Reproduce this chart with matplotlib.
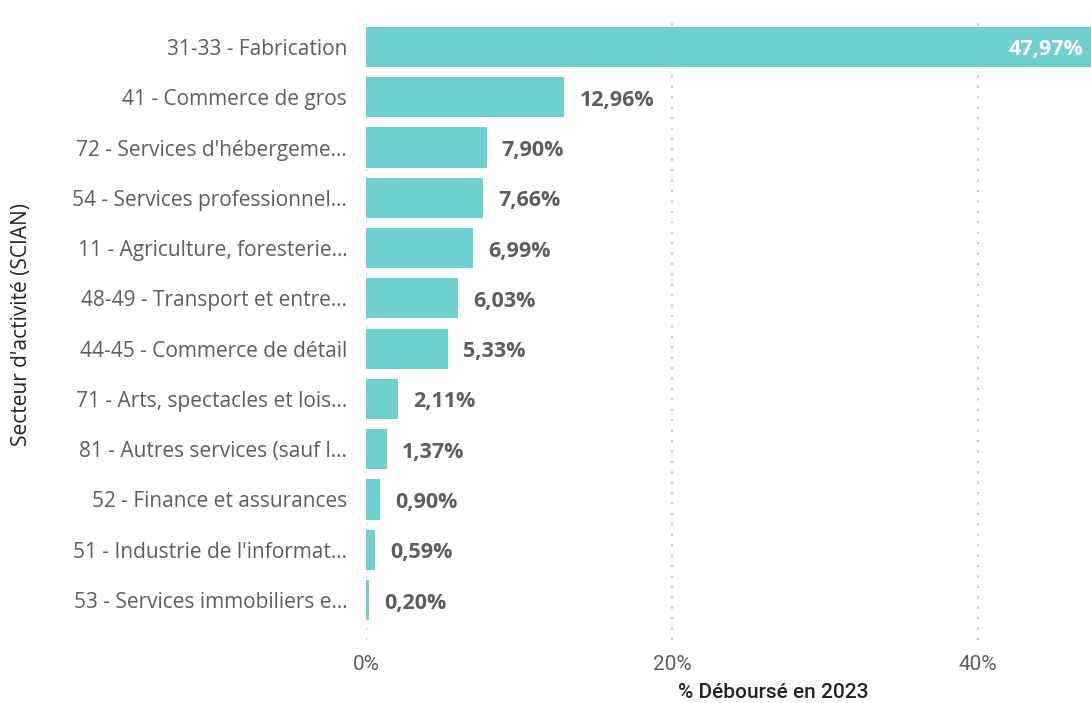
import matplotlib
matplotlib.use("Agg")
import matplotlib.pyplot as plt
from matplotlib.ticker import FuncFormatter, FixedLocator

categories = [
    "31-33 - Fabrication",
    "41 - Commerce de gros",
    "72 - Services d'hébergeme…",
    "54 - Services professionnel…",
    "11 - Agriculture, foresterie…",
    "48-49 - Transport et entre…",
    "44-45 - Commerce de détail",
    "71 - Arts, spectacles et lois…",
    "81 - Autres services (sauf l…",
    "52 - Finance et assurances",
    "51 - Industrie de l'informat…",
    "53 - Services immobiliers e…",
]
values = [47.97, 12.96, 7.90, 7.66, 6.99, 6.03, 5.33, 2.11, 1.37, 0.90, 0.59, 0.20]
xticks = [0, 20, 40]

W, H = 1091, 703
fig = plt.figure(figsize=(W / 100, H / 100), dpi=100)
left, right, top, bottom = 366, 1091, 15, 640
ax = fig.add_axes([left / W, 1 - bottom / H, (right - left) / W, (bottom - top) / H])

bar_color = "#6FD0D0"
text_color = "#605E5C"
ypos = list(range(len(categories)))
ax.barh(ypos, values, height=0.8, color=bar_color, zorder=2)

xmax = (right - left) / 306 * 20
ax.set_xlim(0, xmax)
sp = 50.3
ax.set_ylim(11 + (bottom - 600) / sp, -(47 - top) / sp)

ax.set_yticks(ypos)
ax.set_yticklabels(categories, fontsize=15, color=text_color, family="Open Sans")
ax.tick_params(axis="y", length=0, pad=13.5)
ax.xaxis.set_major_locator(FixedLocator(xticks))
ax.xaxis.set_major_formatter(FuncFormatter(lambda v, p: f"{v:.0f}%"))
ax.tick_params(axis="x", length=0, pad=11, labelsize=15, labelcolor=text_color)
for lab in ax.get_xticklabels():
    lab.set_family("Roboto")

ax.grid(axis="x", color="#C8C6C4", linestyle=(0, (1, 4)), linewidth=1.5, zorder=0)
for s in ax.spines.values():
    s.set_visible(False)

dy = 3 / sp
for y, v in zip(ypos, values):
    lab = f"{v:.2f}%".replace(".", ",")
    if v > xmax * 0.8:
        ax.text(xmax - 8 / 306 * 20, y + dy, lab, ha="right", va="center", color="white",
                fontsize=15.5, fontweight="bold", family="Open Sans", zorder=3)
    else:
        ax.text(v + 15 / 306 * 20, y + dy, lab, ha="left", va="center", color=text_color,
                fontsize=15.5, fontweight="bold", family="Open Sans", zorder=3)

fig.text(773 / W, 1 - 692 / H, "% Déboursé en 2023", ha="center", va="center",
         fontsize=15, color="#252423", family="Roboto", fontweight="medium")
fig.text(22 / W, 1 - 325 / H, "Secteur d'activité (SCIAN)", rotation=90, ha="center",
         va="center", fontsize=15, color="#252423", family="Open Sans")

fig.savefig("out.png", dpi=100)
